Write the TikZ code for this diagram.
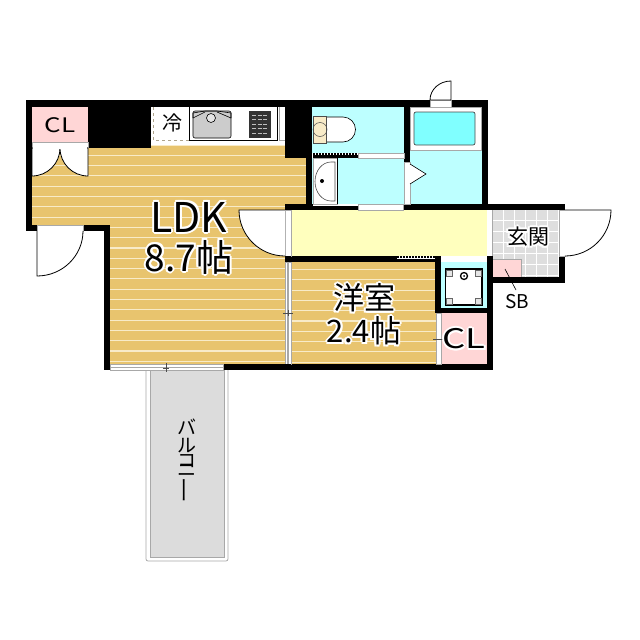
\documentclass[tikz,border=0pt]{standalone}
\usepackage{fontspec}
\setmainfont{Noto Sans CJK JP}
\usetikzlibrary{positioning}

\definecolor{woodfill}{HTML}{E8C46E}
\definecolor{woodline}{HTML}{F8EBC8}
\definecolor{wetfill}{HTML}{BDFFFF}
\definecolor{tubfill}{HTML}{80FFFF}
\definecolor{clfill}{HTML}{FFD6D6}
\definecolor{hallfill}{HTML}{FFFFBE}
\definecolor{tilefill}{HTML}{DEDEDE}
\definecolor{balcfill}{HTML}{DCDCDC}
\definecolor{framegray}{HTML}{A8A8A8}

\tikzset{
    wall/.style={fill=black, draw=none},
    wood/.style={fill=woodfill, draw=none},
    wet/.style={fill=wetfill, draw=none},
    closet/.style={fill=clfill, draw=none},
    leaf/.style={fill=white, draw=black, line width=0.8pt},
    frame/.style={fill=white, draw=framegray, line width=0.8pt},
    fixture/.style={draw=black, line width=0.6pt},
    tick/.style={draw=black!70, line width=0.6pt},
    dots/.style={draw=black, line width=2pt, dash pattern=on 1.5pt off 1.5pt}
}

% label with a white rim
\newcommand{\rimlabel}[4]{%
    \foreach \a in {0,45,...,315}
        \node[white, #3] at ([shift={(\a:2)}]#1) {#4};
    \node[#3] (#2) at (#1) {#4};
}

\begin{document}
\begin{tikzpicture}[x=1pt, y=-1pt]
\useasboundingbox (0,0) rectangle (640,640);

% BALCONY
\draw[draw=framegray, line width=0.8pt, rounded corners=2pt, fill=white] (146,366) rectangle (228,561);
\fill[balcfill] (150,366) rectangle (224,557);
\draw[framegray, line width=0.6pt] (150,366) rectangle (224,557);

% FLOORS
\fill[wood] (32,145) rectangle (306,225);
\fill[wood] (110,225) rectangle (288,364);
\fill[wood] (291,262) rectangle (436,364);
\begin{scope}
    \clip (32,145) -| (306,206) -| (285,364) -| (110,225) -| cycle;
    \foreach \y in {145,155.3,...,365}
        \draw[woodline, line width=1.1pt] (32,\y) -- (306,\y);
\end{scope}
\begin{scope}
    \clip (291,262) rectangle (436,364);
    \foreach \y in {269.5,279.8,...,365}
        \draw[woodline, line width=1.1pt] (291,\y) -- (436,\y);
\end{scope}
\fill[wet] (312,107) rectangle (404,153);
\fill[wet] (312,158) rectangle (404,204);
\fill[wet] (410,107) rectangle (482,204);
\fill[wet] (441,262) rectangle (487,308);
\fill[white] (441,257) rectangle (487,262);
\fill[closet] (32,107) rectangle (88,142);
\fill[closet] (441,313) rectangle (487,364);
\fill[hallfill] (291,210) rectangle (487,256);
\fill[tilefill] (492,210) rectangle (559,277);
\foreach \x in {503,514,...,558}
    \draw[white, line width=1pt] (\x,210) -- (\x,277);
\foreach \y in {220,231,...,276}
    \draw[white, line width=1pt] (492,\y) -- (559,\y);
\draw[framegray, line width=0.5pt] (492,210) -- (492,256);
\fill[closet] (492,259) rectangle (521,277);
\draw[framegray, line width=0.5pt] (492,259) -| (521,277);

% WALLS
\fill[wall] (26,100) rectangle (151,107);
\fill[wall] (26,100) rectangle (32,231);
\fill[wall] (88,100) rectangle (151,148);
\fill[wall] (151,100) rectangle (430,107);
\fill[wall] (451,100) rectangle (488,107);
\fill[wall] (285,100) rectangle (312,158);
\fill[wall] (306,158) rectangle (312,210);
\fill[wall] (404,100) rectangle (410,162);
\fill[wall] (482,100) rectangle (488,210);
\fill[wall] (285,204) rectangle (313,210);
\fill[wall] (403,204) rectangle (565,210);
\fill[wall] (559,256) rectangle (565,283);
\fill[wall] (559,204) rectangle (565,210);
\fill[wall] (487,277) rectangle (565,283);
\fill[wall] (26,225) rectangle (37,231);
\fill[wall] (83,225) rectangle (110,231);
\fill[wall] (104,225) rectangle (110,370);
\fill[wall] (285,256) rectangle (397,262);
\fill[wall] (435,256) rectangle (441,313);
\fill[wall] (487,256) rectangle (493,370);
\fill[wall] (435,308) rectangle (493,313);
\fill[wall] (223,364) rectangle (493,370);

% KITCHEN
\fill[white] (153,107) rectangle (285,140);
\draw[woodline!70!black, line width=0.7pt, dashed] (153,107) |- (189,140);
\draw[fixture] (189,107) |- (277,140) -- (277,107);
\draw[framegray, line width=0.6pt] (279,107) |- (285,140);
\draw[fixture, fill=black!20, rounded corners=2pt] (193,111) rectangle (231,138);
\draw[fixture] (193,118) -- (193,113) -- (205,111) -- (217,111) -- (231,113) -- (231,118);
\draw[fixture] (193,118) -- (205,112) (217,112) -- (231,118);
\draw[fixture, fill=black!10] (211,118) circle (4.5);
\fill[black!80] (249,111) rectangle (271,138);
\foreach \y in {115,119.5,...,135}
    \draw[white!75!black, line width=0.8pt, dash pattern=on 4pt off 1.5pt] (252,\y) -- (268,\y);

% CLOSET DOORS
\draw[frame] (32,142) rectangle (88,147);
\draw[leaf] (32,148) -- (32,176) arc (90:0:28) -- cycle;
\draw[leaf] (88,148) -- (88,176) arc (90:180:28) -- cycle;
\fill[white] (33,147) rectangle (87,149);

% ENTRY AND OTHER DOORS
\fill[white] (37,226) rectangle (83,232);
\draw[frame] (37,225) rectangle (83,231);
\draw[leaf] (37,231) -- (37,276) arc (90:0:46 and 45);
\draw[frame] (430,100) rectangle (451,107);
\draw[leaf] (451,100) -- (451,81) arc (-90:-180:21 and 19) -- cycle;
\draw[frame] (559,210) rectangle (565,256);
\draw[leaf] (565,210) -- (611,210) arc (0:90:46);
\draw[frame] (285,210) rectangle (291,256);
\draw[leaf] (285,210) -- (239,210) arc (180:90:46);

% SLIDING DOORS
\draw[frame] (358,153) rectangle (404,158);
\draw[frame] (358,204) rectangle (403,210);
\fill[wall] (313,155) rectangle (358,158);
\draw[dots] (313,154) -- (358,154);
\fill[wall] (313,206) rectangle (358,210);
\draw[dots] (313,209) -- (358,209);
\fill[white] (397,256) rectangle (435,262);
\fill[wall] (397,259) rectangle (441,262);
\draw[dots] (397,257) -- (441,257);
\draw[framegray, fill=white, line width=0.8pt] (285,262) rectangle (291,364);
\fill[framegray] (287,262) rectangle (289,364);
\draw[tick] (283,313) -- (293,313);
\draw[tick] (288,310) -- (288,316);
\fill[wall] (285,256) rectangle (291,262);
\fill[wall] (285,364) rectangle (291,370);
\draw[frame] (436,313) rectangle (441,364);
\draw[tick] (433,339) -- (443,339);
\draw[frame] (110,364) rectangle (223,370);
\draw[framegray, line width=0.8pt] (110,367) -- (223,367);
\draw[tick] (166,363) -- (166,372);
\draw[tick] (163,368) -- (169,368);

% BATH
\draw[frame] (404,162) rectangle (410,204);
\draw[fixture, fill=white] (410,164) -- (426,174) -- (410,184);
\draw[frame] (410,107) rectangle (481,150);
\draw[draw=black!70, fill=tubfill, line width=0.7pt, rounded corners=2pt] (414,112) rectangle (475,145);

% TOILET
\draw[fixture, fill=white] (325,117) -- (343,117) arc (-90:90:12.5) -- (325,142) -- cycle;
\draw[draw=black!70, fill=woodline, line width=0.6pt] (313,116) rectangle (326,143);
\draw[draw=black!70, line width=0.5pt] (320,129.5) circle (7);

% VANITY
\fill[white] (313,158) rectangle (337,204);
\draw[framegray, line width=0.7pt] (313,158) rectangle (337,204);
\draw[draw=black!70, line width=0.6pt] (335,162) -- (331,162) arc (-90:-270:16 and 19.5) -- (335,201) -- cycle;
\fill[black] (322,181) circle (2);
\draw[fixture] (337,158) -- (337,204);

% WASHER PAN
\draw[draw=black, fill=white, line width=1.6pt] (445.5,269) rectangle (482,305);
\foreach \cx/\cy in {446/270,475/270,446/298,475/298}
    \draw[draw=black!60, fill=black!10, line width=0.5pt] (\cx,\cy) rectangle ++(6.5,6.5);
\draw[black, line width=1.3pt] (464,276) circle (3.5);
\fill[black] (464,276) circle (1);

% SB LINE
\coordinate (sbstart) at (505,269);
\coordinate (sbend) at (516,290);
\draw[black, line width=0.6pt] (sbstart) -- (sbend);

% LABELS
\node[font=\fontsize{20}{20}\selectfont, xscale=1.3] (cltop) at (60,125) {CL};
\rimlabel{189,217}{ldk}{font=\fontsize{41}{41}\selectfont}{LDK}
\rimlabel{189,257}{ldksize}{font=\fontsize{37}{37}\selectfont}{8.7帖}
\rimlabel{364,298}{yoshitsu}{font=\fontsize{31}{31}\selectfont}{洋室}
\rimlabel{364,331}{yoshitsusize}{font=\fontsize{31}{31}\selectfont}{2.4帖}
\rimlabel{464,339}{clright}{font=\fontsize{27}{27}\selectfont, xscale=1.35}{CL}
\node[font=\fontsize{20}{20}\selectfont] (rei) at (172,123) {冷};
\rimlabel{528,237}{genkan}{font=\fontsize{21}{21}\selectfont}{玄関}
\node[font=\fontsize{19}{19}\selectfont] (sb) at (517,302) {SB};
\node[font=\fontsize{19}{15}\selectfont, align=center, inner sep=0pt] (balcony) at (187,461) {バ\\[3pt]ル\\コ\\[-6pt]ニ\\[-1pt]\rotatebox{90}{\scalebox{1.4}[1]{ー}}};

\end{tikzpicture}
\end{document}
